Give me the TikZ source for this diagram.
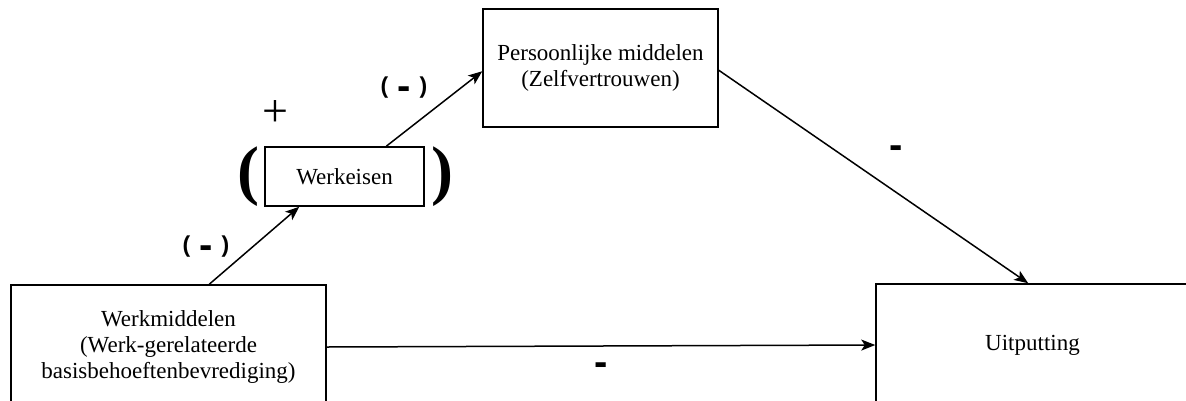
\documentclass[tikz,border=0pt]{standalone}
\usepackage{fontspec}
\setmainfont{Liberation Serif}
\newfontfamily\signfont{Liberation Sans}
\usetikzlibrary{arrows.meta}
\newcommand{\minussign}{\raisebox{-6pt}{\fontsize{40}{40}\selectfont -}}
\newcommand{\parenminus}{(\hspace{9pt}\minussign\hspace{9pt})}
\begin{document}
\begin{tikzpicture}[x=1pt,y=-1pt,
  box/.style={draw, line width=1.5pt, rectangle, inner sep=0pt, align=center,
    font=\fontsize{23}{26}\selectfont},
  link/.style={line width=1.5pt, -{Stealth[length=14pt,width=11pt,inset=3.5pt]}},
  sign/.style={font=\signfont\bfseries\fontsize{23}{23}\selectfont, inner sep=0pt},
  bigparen/.style={font=\bfseries\fontsize{66}{66}\selectfont, inner sep=0pt},
]
\clip (0,0) rectangle (1186,400);
\useasboundingbox (0,0) rectangle (1186,400);

% boxes
\node[box, minimum width=315pt, minimum height=124pt] (wm) at (168.5,347)
  {Werkmiddelen\\(Werk-gerelateerde\\basisbehoeftenbevrediging)};
\node[box, minimum width=159pt, minimum height=59pt] (we) at (344.5,176.5) {Werkeisen};
\node[box, minimum width=235pt, minimum height=118pt] (pm) at (600.5,68)
  {Persoonlijke middelen\\(Zelfvertrouwen)};
\node[box, minimum width=319pt, minimum height=122pt, text width=300pt] (ui) at (1035.5,345)
  {\hspace*{-6pt}Uitputting};

% connectors
\draw[link] ([xshift=199pt]wm.north west) -- ([xshift=35pt]we.south west);
\draw[link] ([xshift=122pt]we.north west) -- ([yshift=-63pt]pm.north west);
\draw[link] ([yshift=-62pt]pm.north east) -- ([xshift=153pt]ui.north west);
\draw[link] (wm.east) -- (ui.west);

% signs
\node[sign] (s1) at (206,247) {\parenminus};
\node[sign] (s2) at (404,88) {\parenminus};
\node[font=\fontsize{46}{46}\selectfont, inner sep=0pt] (plus) at (275,114) {+};
\node[bigparen] (lp) at (248,177) {(};
\node[bigparen] (rp) at (442,177) {)};
\node[sign] (s3) at (896,152) {\minussign};
\node[sign] (s4) at (601,369) {\minussign};
\end{tikzpicture}
\end{document}
